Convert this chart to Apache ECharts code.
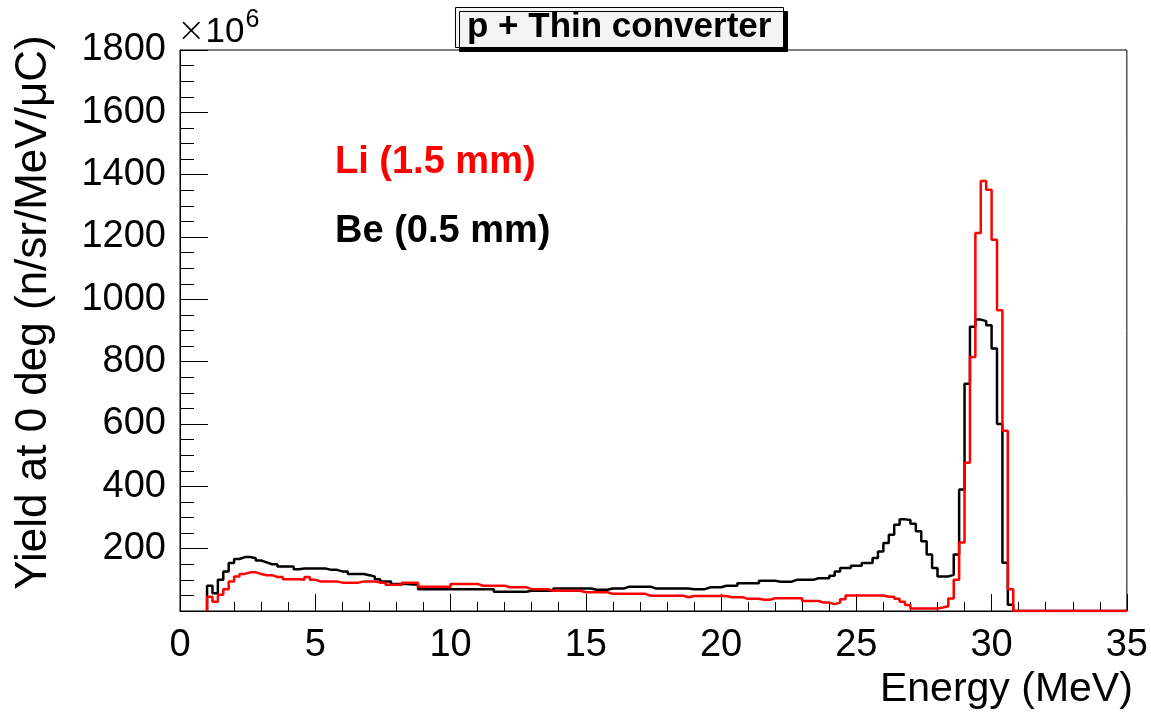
<!DOCTYPE html>
<html lang="en">
<head>
  <meta charset="UTF-8">
  <title>p + Thin converter</title>
  <style>
  html, body { margin: 0; padding: 0; background: #fff; }
  #main { width: 1151px; height: 717px; }
  </style>
  <script src="https://cdn.jsdelivr.net/npm/echarts@6/dist/echarts.min.js"></script>
</head>
<body>
  <div id="main"></div>
  <script>
  // histogram binning (MeV)
  var binStart = 1.0;
  var binWidth = 0.2;
  var xMax = 35;

  // Li (1.5 mm), yield x10^6, one value per 0.2 MeV bin from 1.0 MeV
  var liYield = [
    46, 30, 52, 70, 95, 111, 119, 124, 124, 119,
    115, 115, 109, 109, 102, 102, 102, 100, 109, 100,
    95, 95, 95, 95, 91, 91, 91, 91, 95, 95,
    95, 91, 91, 84, 84, 84, 91, 91, 91, 78,
    78, 78, 78, 78, 78, 87, 87, 87, 87, 87,
    81, 81, 81, 81, 81, 76, 76, 76, 76, 70,
    70, 70, 70, 65, 65, 65, 65, 65, 65, 60,
    60, 60, 60, 60, 55, 55, 55, 55, 55, 55,
    55, 49, 49, 49, 49, 49, 49, 49, 44, 48,
    48, 48, 48, 48, 48, 48, 44, 44, 44, 39,
    39, 39, 36, 36, 41, 41, 41, 41, 41, 41,
    32, 32, 32, 27, 27, 22, 27, 38, 50, 50,
    50, 50, 50, 50, 50, 46, 46, 39, 30, 19,
    8, 8, 8, 8, 8, 11, 15, 40, 100, 220,
    476, 815, 1213, 1380, 1352, 1191, 965, 578, 70, 0
  ];

  // Be (0.5 mm)
  var beYield = [
    81, 57, 100, 127, 154, 167, 173, 173, 169, 162,
    156, 150, 150, 143, 143, 143, 134, 136, 136, 136,
    136, 136, 132, 132, 127, 127, 119, 119, 119, 115,
    111, 102, 95, 95, 87, 87, 87, 85, 85, 70,
    70, 70, 70, 70, 70, 70, 70, 70, 70, 70,
    70, 70, 70, 62, 62, 62, 62, 62, 62, 65,
    65, 65, 65, 65, 72, 72, 72, 72, 72, 72,
    72, 68, 68, 68, 72, 72, 72, 78, 78, 78,
    78, 78, 72, 72, 72, 72, 72, 72, 72, 70,
    70, 70, 76, 76, 76, 81, 81, 81, 89, 89,
    89, 89, 97, 97, 97, 94, 94, 94, 100, 100,
    100, 100, 105, 105, 105, 113, 127, 138, 138, 145,
    145, 154, 154, 170, 191, 218, 245, 277, 294, 292,
    280, 256, 224, 181, 138, 111, 111, 116, 181, 390,
    729, 912, 935, 930, 917, 842, 600, 155, 20, 0
  ];

  var xTicks = [0, 5, 10, 15, 20, 25, 30, 35];
  var yTicks = [200, 400, 600, 800, 1000, 1200, 1400, 1600, 1800];

  var font = "'Liberation Sans', Arial, Helvetica, sans-serif";

  // turn bin contents into step-line points (ROOT style outline)
  function histPoints(values) {
    var pts = [[binStart, 0]];
    for (var i = 0; i < values.length; i++) {
      pts.push([+(binStart + i * binWidth).toFixed(2), values[i]]);
    }
    pts.push([+(binStart + values.length * binWidth).toFixed(2), 0]);
    pts.push([xMax, 0]);
    return pts;
  }

  var chart = echarts.init(document.getElementById('main'));
  chart.setOption({
    animation: false,
    backgroundColor: '#fff',
    title: [
      {
        text: 'p + Thin converter',
        left: 455,
        top: 7,
        padding: [3, 12, 3, 12],
        backgroundColor: '#f4f4f4',
        borderColor: '#000',
        borderWidth: 1,
        shadowColor: '#000',
        shadowOffsetX: 4,
        shadowOffsetY: 4,
        shadowBlur: 0,
        textStyle: { fontFamily: font, fontSize: 35, fontWeight: 'bold', color: '#000', lineHeight: 35 }
      },
      {
        text: '{x|\u00d7}{n|10}{s|6}',
        left: 177,
        top: 10,
        padding: 0,
        textStyle: {
          fontFamily: font, fontWeight: 'normal', color: '#000',
          rich: {
            x: { fontFamily: 'DejaVu Sans', fontSize: 34, fontWeight: 200, lineHeight: 44, color: '#000' },
            n: { fontFamily: font, fontSize: 35, fontWeight: 'normal', lineHeight: 44, color: '#000' },
            s: { fontFamily: font, fontSize: 25, fontWeight: 'normal', lineHeight: 44, color: '#000', padding: [0, 0, 24, 1] }
          }
        }
      },
      {
        text: 'Li (1.5 mm)',
        left: 335,
        top: 143,
        padding: 0,
        textStyle: { fontFamily: font, fontSize: 38, fontWeight: 'bold', color: '#ff0000', lineHeight: 40 }
      },
      {
        text: 'Be (0.5 mm)',
        left: 335,
        top: 212,
        padding: 0,
        textStyle: { fontFamily: font, fontSize: 38, fontWeight: 'bold', color: '#000', lineHeight: 40 }
      }
    ],
    grid: {
      left: 180,
      right: 19,
      top: 50,
      bottom: 106,
      show: true,
      borderColor: '#000',
      borderWidth: 1,
      backgroundColor: 'transparent'
    },
    xAxis: {
      type: 'value',
      min: 0,
      max: xMax,
      interval: 5,
      name: 'Energy (MeV)',
      nameLocation: 'end',
      nameGap: 6,
      nameTextStyle: {
        fontFamily: font, fontSize: 41, color: '#000',
        align: 'right', verticalAlign: 'top', padding: [58, 0, 0, 0]
      },
      axisLine: { show: true, onZero: false, lineStyle: { color: '#000', width: 1 } },
      axisTick: { inside: true, length: 17, lineStyle: { color: '#000' } },
      minorTick: { show: true, splitNumber: 5, length: 9, lineStyle: { color: '#000' } },
      splitLine: { show: false },
      axisLabel: {
        fontFamily: font, fontSize: 38, color: '#000', margin: 16,
        formatter: function (v) { return xTicks.indexOf(v) >= 0 ? String(v) : ''; }
      }
    },
    yAxis: {
      type: 'value',
      min: 0,
      max: 1800,
      interval: 200,
      name: 'Yield at 0 deg (n/sr/MeV/\u03bcC)',
      nameLocation: 'middle',
      nameRotate: 90,
      nameGap: 124,
      nameTextStyle: { fontFamily: font, fontSize: 44, color: '#000', padding: [0, 0, 0, 36] },
      axisLine: { show: true, onZero: false, lineStyle: { color: '#000', width: 1 } },
      axisTick: { inside: true, length: 28, lineStyle: { color: '#000' } },
      minorTick: { show: true, splitNumber: 4, length: 14, lineStyle: { color: '#000' } },
      splitLine: { show: false },
      axisLabel: {
        fontFamily: font, fontSize: 38, color: '#000', margin: 14,
        formatter: function (v) { return yTicks.indexOf(v) >= 0 ? String(v) : ''; }
      }
    },
    series: [
      {
        name: 'Be (0.5 mm)',
        type: 'line',
        step: 'end',
        symbol: 'none',
        clip: true,
        lineStyle: { color: '#000', width: 2.5 },
        data: histPoints(beYield)
      },
      {
        name: 'Li (1.5 mm)',
        type: 'line',
        step: 'end',
        symbol: 'none',
        clip: true,
        lineStyle: { color: '#ff0000', width: 2.5 },
        data: histPoints(liYield)
      }
    ]
  });
  </script>
</body>
</html>
